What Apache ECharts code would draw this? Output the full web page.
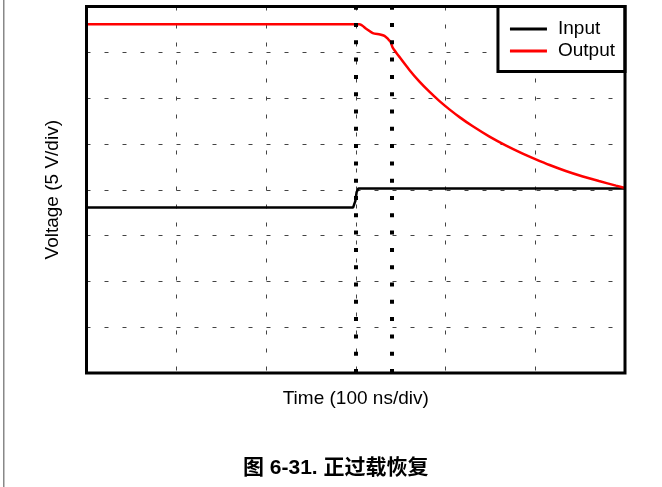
<!DOCTYPE html>
<html>
<head>
<meta charset="utf-8">
<script src="https://cdn.jsdelivr.net/npm/echarts@6/dist/echarts.min.js"></script>
<style>
  html, body { margin: 0; padding: 0; background: #fff; }
  #chart { width: 662px; height: 487px; }
</style>
</head>
<body>
<div id="chart"></div>
<script>
// time in divisions (100 ns/div), voltage in divisions (5 V/div)
const inputTime = [0, 2.97, 2.995, 3.01, 3.03, 6]
const inputVolt = [3.61, 3.61, 3.75, 3.95, 4.03, 4.03]

const outputTime = [0, 3.04, 3.12, 3.19, 3.27, 3.32, 3.36, 3.39, 3.41, 3.49, 3.6, 3.71, 3.82, 3.93,
  4.04, 4.16, 4.3, 4.49, 4.67, 4.86, 5.0, 5.16, 5.34, 5.53, 5.71, 5.9, 6.0]
const outputVolt = [7.61, 7.61, 7.51, 7.42, 7.39, 7.36, 7.29, 7.22, 7.11, 6.89, 6.61, 6.36, 6.14, 5.94,
  5.76, 5.58, 5.39, 5.16, 4.97, 4.79, 4.67, 4.54, 4.41, 4.29, 4.19, 4.09, 4.04]

const markerTimes = [3.0, 3.4]

const FONT = '"Liberation Sans", Arial, sans-serif'

const chart = echarts.init(document.getElementById('chart'))

const zip = (xs, ys) => xs.map((x, i) => [x, ys[i]])

chart.setOption({
  animation: false,
  grid: {
    left: 86.5, right: 37, top: 6.5, bottom: 114,
    show: true, borderColor: '#000', borderWidth: 3, z: 5
  },
  legend: {
    orient: 'vertical',
    right: 37,
    top: 6.5,
    backgroundColor: '#fff',
    borderColor: '#000',
    borderWidth: 3,
    borderRadius: 0,
    padding: [13, 10, 11, 12],
    itemGap: 3,
    itemWidth: 37,
    itemHeight: 3,
    icon: 'rect',
    textStyle: { fontFamily: FONT, fontSize: 19, color: '#000', padding: [0, 0, 0, 6] },
    data: ['Input', 'Output']
  },
  xAxis: {
    type: 'value', min: 0, max: 6, interval: 1,
    name: 'Time (100 ns/div)',
    nameLocation: 'middle',
    nameGap: 16,
    nameTextStyle: { fontFamily: FONT, fontSize: 19, color: '#000', verticalAlign: 'top' },
    axisLine: { show: false },
    axisTick: { show: false },
    axisLabel: { show: false },
    splitLine: { show: true, lineStyle: { color: '#444', width: 1, type: [4, 14] } }
  },
  yAxis: {
    type: 'value', min: 0, max: 8, interval: 1,
    name: 'Voltage (5 V/div)',
    nameLocation: 'middle',
    nameGap: 24,
    nameTextStyle: { fontFamily: FONT, fontSize: 19, color: '#000' },
    axisLine: { show: false },
    axisTick: { show: false },
    axisLabel: { show: false },
    splitLine: { show: true, lineStyle: { color: '#444', width: 1, type: [4, 14] } }
  },
  graphic: [
    { type: 'rect', shape: { x: 3, y: 0, width: 1.5, height: 487 }, style: { fill: '#888' } },
    {
      type: 'text', left: 243, top: 458,
      style: {
        text: '图 6-31. 正过载恢复',
        font: 'bold 21px "Liberation Sans", "Noto Sans CJK SC", sans-serif',
        fill: '#000'
      }
    }
  ],
  series: [
    {
      name: 'Input', type: 'line', data: zip(inputTime, inputVolt),
      showSymbol: false, symbol: 'none',
      lineStyle: { color: '#000', width: 2.5 }, itemStyle: { color: '#000' },
      markLine: {
        silent: true, symbol: 'none', label: { show: false },
        lineStyle: { color: '#000', width: 4, type: [4, 13.3] },
        data: markerTimes.map(t => ({ xAxis: t }))
      },
      z: 3
    },
    {
      name: 'Output', type: 'line', data: zip(outputTime, outputVolt),
      showSymbol: false, symbol: 'none',
      smooth: 0.25,
      lineStyle: { color: '#ff0000', width: 2.5 }, itemStyle: { color: '#ff0000' },
      z: 4
    }
  ]
})
</script>
</body>
</html>
